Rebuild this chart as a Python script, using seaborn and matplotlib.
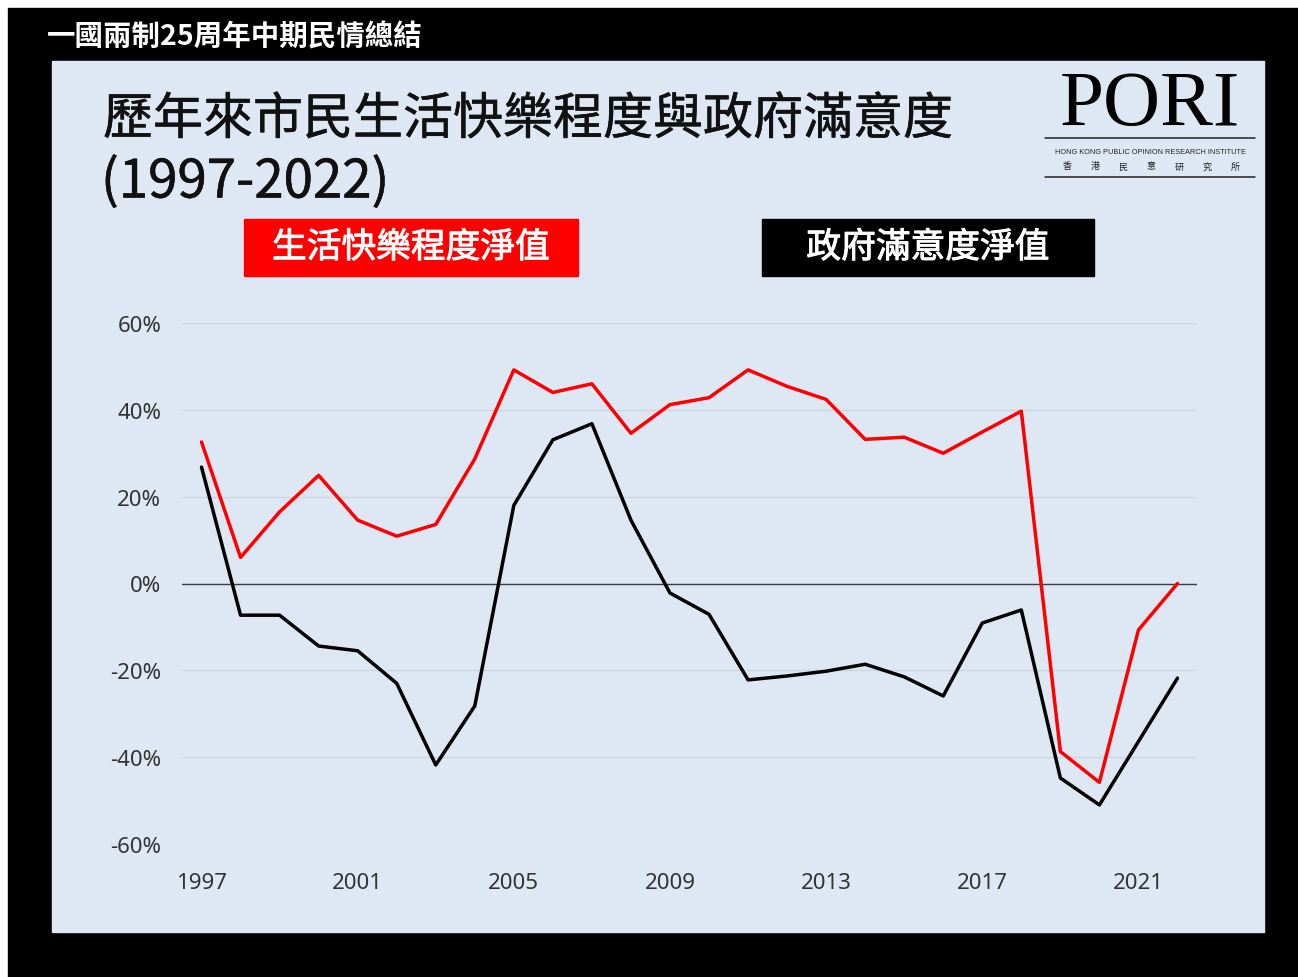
import matplotlib
matplotlib.use("Agg")
import matplotlib.pyplot as plt
from matplotlib.patches import Rectangle
from matplotlib.lines import Line2D
from matplotlib.ticker import FuncFormatter
import matplotlib.patheffects as pe
import seaborn as sns

# net values in %
years = list(range(1997, 2023))
happy_net = [32.6, 6.0, 16.5, 24.9, 14.6, 10.9, 13.6, 28.7, 49.2, 44.0, 46.0, 34.6,
             41.2, 42.8, 49.2, 45.4, 42.4, 33.2, 33.7, 30.0, 34.9, 39.7, -38.7, -45.8, -10.7, 0.0]
gov_net = [26.8, -7.3, -7.3, -14.4, -15.5, -23.0, -41.8, -28.2, 18.0, 33.1, 36.8, 14.6,
           -2.2, -7.1, -22.2, -21.3, -20.2, -18.6, -21.5, -25.9, -9.1, -6.1, -44.8, -51.0, -36.4, -21.8]
xticks = [1997, 2001, 2005, 2009, 2013, 2017, 2021]
yticks = [-60, -40, -20, 0, 20, 40, 60]

header = "一國兩制25周年中期民情總結"
title1 = "歷年來市民生活快樂程度與政府滿意度"
title2 = "(1997-2022)"
label_happy = "生活快樂程度淨值"
label_gov = "政府滿意度淨值"

sns.set_style("white")
plt.rcParams['font.family'] = ['Noto Sans CJK TC', 'DejaVu Sans']

W, H = 1298, 978
def fx(x):
    return x / W
def fy(y):
    return 1 - y / H

def thicken(color, w):
    # fake a medium weight by stroking the glyphs in their own colour
    return [pe.withStroke(linewidth=w, foreground=color)]

fig = plt.figure(figsize=(W / 100, H / 100), dpi=100, facecolor="white")

# black frame and light blue slide panel
fig.add_artist(Rectangle((fx(8), 0), fx(W - 8), 1 - 9 / H, transform=fig.transFigure,
                         color="black", zorder=-3))
panel = "#dde8f4"
fig.add_artist(Rectangle((fx(52), fy(933)), fx(1264 - 52), (933 - 62) / H,
                         transform=fig.transFigure, color=panel, zorder=-2))

ax = fig.add_axes([fx(182), fy(845), fx(1197 - 182), (845 - 324) / H])
ax.set_facecolor("none")

sns.lineplot(x=years, y=happy_net, color="#ff0000", linewidth=2.5, ax=ax)
sns.lineplot(x=years, y=gov_net, color="black", linewidth=2.5, ax=ax)
ax.axhline(0, color="#3a3f47", linewidth=1.0, zorder=1)

ax.set_xlim(1996.5, 2022.5)
ax.set_ylim(-60, 60)
ax.set_xticks(xticks)
ax.set_yticks(yticks)
ax.yaxis.set_major_formatter(FuncFormatter(lambda v, p: f"{int(v)}%"))
ax.grid(axis="y", color="#cdd5de", linewidth=0.9)
ax.grid(axis="x", visible=False)
for s in ax.spines.values():
    s.set_visible(False)
ax.tick_params(axis="y", length=0, labelsize=16, labelcolor="#333333", pad=15)
ax.tick_params(axis="x", length=0, labelsize=16, labelcolor="#333333", pad=20)
for lab in ax.get_xticklabels() + ax.get_yticklabels():
    lab.set_family(["Noto Sans", "DejaVu Sans"])
ax.set_xlabel("")
ax.set_ylabel("")

# texts
fig.text(fx(47), fy(37), header, color="white", fontsize=20.5, fontweight="bold",
         va="center", ha="left")
fig.text(fx(103), fy(121), title1, color="#111111", fontsize=36,
         va="center", ha="left", path_effects=thicken("#111111", 0.4))
fig.text(fx(101), fy(183), title2, color="#111111", fontsize=38,
         va="center", ha="left", path_effects=thicken("#111111", 0.4))

# legend boxes
fig.add_artist(Rectangle((fx(244), fy(277)), fx(578 - 244), (277 - 220) / H,
                         transform=fig.transFigure, color="#ff0000"))
fig.text(fx(411), fy(249), label_happy, color="white", fontsize=25,
         va="center", ha="center", path_effects=thicken("white", 0.7))
fig.add_artist(Rectangle((fx(762), fy(277)), fx(1094 - 762), (277 - 220) / H,
                         transform=fig.transFigure, color="black"))
fig.text(fx(928), fy(249), label_gov, color="white", fontsize=25,
         va="center", ha="center", path_effects=thicken("white", 0.7))

# PORI logo
fig.text(fx(1150), fy(106), "PORI", family="Liberation Serif", fontsize=57,
         color="black", va="center", ha="center")
for yy in (139, 178):
    fig.add_artist(Line2D([fx(1045), fx(1255)], [fy(yy), fy(yy)], color="#222222",
                          linewidth=1.1, transform=fig.transFigure))
fig.text(fx(1150), fy(152), "HONG KONG PUBLIC OPINION RESEARCH INSTITUTE",
         family="Liberation Sans", fontsize=5.3, color="#222222", va="center", ha="center")
for i, ch in enumerate("香港民意研究所"):
    fig.text(fx(1067 + i * 28), fy(167), ch, fontsize=6.5, color="#222222",
             va="center", ha="center")

fig.savefig("out.png", dpi=100)
